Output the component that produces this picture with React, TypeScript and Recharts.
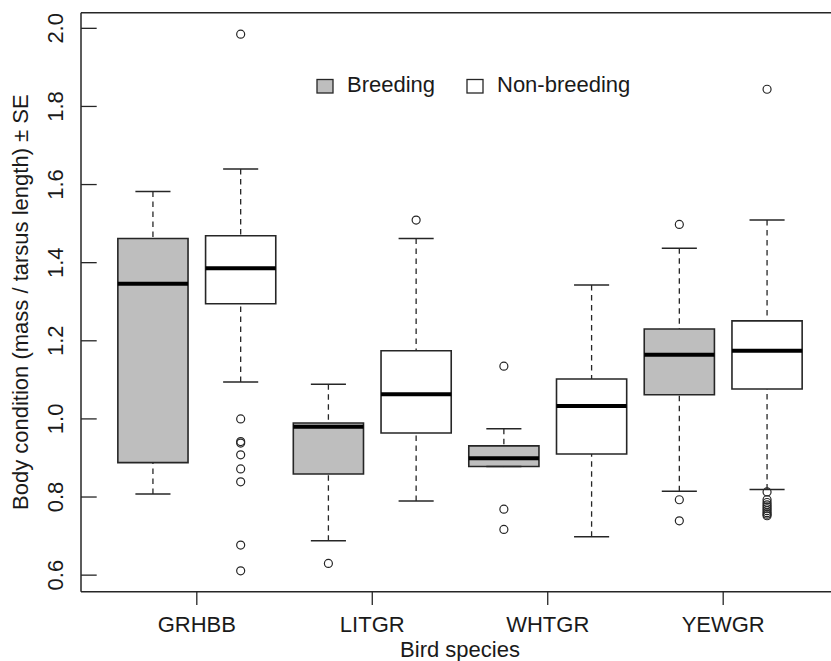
import React from 'react';
import { ComposedChart, XAxis, YAxis, Scatter, ReferenceArea, ReferenceLine } from 'recharts';

// Categories
const species = ['GRHBB', 'LITGR', 'WHTGR', 'YEWGR'];
const groups = ['Breeding', 'Non-breeding'];
const groupFills = ['#BEBEBE', '#FFFFFF'];

// Box statistics: [lower whisker, Q1, median, Q3, upper whisker]
const breedingStats = [
  [0.808, 0.888, 1.346, 1.462, 1.582],
  [0.688, 0.859, 0.98, 0.9895, 1.0886],
  [0.878, 0.878, 0.899, 0.931, 0.975],
  [0.815, 1.062, 1.164, 1.23, 1.437],
];
const nonBreedingStats = [
  [1.0945, 1.295, 1.386, 1.469, 1.64],
  [0.79, 0.964, 1.063, 1.1746, 1.462],
  [0.698, 0.91, 1.033, 1.102, 1.343],
  [0.819, 1.0765, 1.1746, 1.251, 1.509],
];

// Outliers
const breedingOutliers = [
  [],
  [0.63],
  [1.135, 0.769, 0.717],
  [1.498, 0.793, 0.739],
];
const nonBreedingOutliers = [
  [1.985, 1.0, 0.942, 0.938, 0.908, 0.872, 0.839, 0.677, 0.611],
  [1.509],
  [],
  [1.844, 0.813, 0.793, 0.786, 0.78, 0.775, 0.77, 0.765, 0.76, 0.756, 0.752],
];

const yTicks = [0.6, 0.8, 1.0, 1.2, 1.4, 1.6, 1.8, 2.0];
const xDomain: [number, number] = [0.18, 8.82];
const yDomain: [number, number] = [0.5576, 2.04];

const FONT = '"Liberation Sans", Arial, sans-serif';
const INK = '#1a1a1a';
const LINE = '#262626';

const statsByGroup = [breedingStats, nonBreedingStats];
const outliersByGroup = [breedingOutliers, nonBreedingOutliers];

const boxes = species.flatMap((sp, i) =>
  groups.map((g, gi) => ({
    key: `${sp}-${g}`,
    pos: 2 * i + gi + 1,
    stats: statsByGroup[gi][i],
    fill: groupFills[gi],
  }))
);

const outlierData = groups.map((g, gi) =>
  species.flatMap((sp, i) =>
    outliersByGroup[gi][i].map((v) => ({ x: 2 * i + gi + 1, y: v }))
  )
);

const xTicks = species.map((_, i) => 2 * i + 1.5);

const YTick = (props: any) => {
  const { x, y, payload } = props;
  const tx = x - 17.7;
  return (
    <g>
      <line x1={x} x2={x + 15.7} y1={y} y2={y} stroke={LINE} strokeWidth={1.3} />
      <text
        x={tx}
        y={y}
        transform={`rotate(-90 ${tx} ${y})`}
        textAnchor="middle"
        fontFamily={FONT}
        fontSize={22}
        fill={INK}
      >
        {Number(payload.value).toFixed(1)}
      </text>
    </g>
  );
};

const XTick = (props: any) => {
  const { x, y, payload } = props;
  const idx = xTicks.indexOf(payload.value);
  return (
    <text x={x} y={y + 26.7} textAnchor="middle" fontFamily={FONT} fontSize={22} fill={INK}>
      {species[idx]}
    </text>
  );
};

const YTitle = (props: any) => {
  const vb = props.viewBox || { x: 0, y: 12.7, width: 81, height: 579 };
  const tx = vb.x + 28.3;
  const ty = vb.y + vb.height / 2;
  return (
    <text
      x={tx}
      y={ty}
      transform={`rotate(-90 ${tx} ${ty})`}
      textAnchor="middle"
      fontFamily={FONT}
      fontSize={22}
      fill={INK}
    >
      Body condition (mass / tarsus length) ± SE
    </text>
  );
};

const XTitle = (props: any) => {
  const vb = props.viewBox || { x: 81, y: 591.7, width: 758, height: 69.3 };
  return (
    <text
      x={vb.x + vb.width / 2}
      y={vb.y + 65.5}
      textAnchor="middle"
      fontFamily={FONT}
      fontSize={22}
      fill={INK}
    >
      Bird species
    </text>
  );
};

const OutlierShape = (props: any) => {
  const { cx, cy } = props;
  return <circle cx={cx} cy={cy} r={4} fill="none" stroke={LINE} strokeWidth={1.2} />;
};

const Legend = () => {
  const itemX = [317, 467];
  return (
    <svg
      width={831}
      height={661}
      style={{ position: 'absolute', left: 0, top: 0, pointerEvents: 'none' }}
    >
      {groups.map((g, gi) => (
        <g key={g}>
          <rect
            x={itemX[gi]}
            y={79.5}
            width={16}
            height={13.5}
            fill={groupFills[gi]}
            stroke={LINE}
            strokeWidth={1.3}
          />
          <text x={itemX[gi] + 30} y={92.3} fontFamily={FONT} fontSize={22} fill={INK}>
            {g}
          </text>
        </g>
      ))}
    </svg>
  );
};

export default function App() {
  return (
    <div
      style={{
        position: 'absolute',
        left: 0,
        top: 0,
        width: 831,
        height: 661,
        overflow: 'hidden',
        background: '#fff',
      }}
    >
      <ComposedChart
        width={860}
        height={661}
        margin={{ top: 12.7, right: 21, bottom: 0, left: 0 }}
      >
        <XAxis
          type="number"
          dataKey="x"
          domain={xDomain}
          allowDataOverflow
          ticks={xTicks}
          interval={0}
          tick={<XTick />}
          tickSize={13.3}
          tickMargin={0}
          tickLine={{ stroke: LINE, strokeWidth: 1.3 }}
          axisLine={{ stroke: LINE, strokeWidth: 1.5 }}
          height={69.3}
          label={{ content: <XTitle /> } as any}
        />
        <YAxis
          type="number"
          dataKey="y"
          domain={yDomain}
          allowDataOverflow
          ticks={yTicks}
          interval={0}
          tick={<YTick />}
          tickSize={0}
          tickMargin={0}
          tickLine={false}
          axisLine={{ stroke: LINE, strokeWidth: 1.5 }}
          width={81}
          label={{ content: <YTitle /> } as any}
        />
        <ReferenceLine
          segment={[
            { x: xDomain[0], y: yDomain[1] },
            { x: xDomain[1], y: yDomain[1] },
          ]}
          stroke={LINE}
          strokeWidth={1.5}
          ifOverflow="visible"
        />
        {boxes.map((b) => (
          <ReferenceLine
            key={`${b.key}-uw`}
            segment={[
              { x: b.pos, y: b.stats[4] },
              { x: b.pos, y: b.stats[3] },
            ]}
            stroke={LINE}
            strokeWidth={1.3}
            strokeDasharray="5.5 4.5"
            ifOverflow="visible"
          />
        ))}
        {boxes.map((b) => (
          <ReferenceLine
            key={`${b.key}-lw`}
            segment={[
              { x: b.pos, y: b.stats[0] },
              { x: b.pos, y: b.stats[1] },
            ]}
            stroke={LINE}
            strokeWidth={1.3}
            strokeDasharray="5.5 4.5"
            ifOverflow="visible"
          />
        ))}
        {boxes.map((b) => (
          <ReferenceLine
            key={`${b.key}-uc`}
            segment={[
              { x: b.pos - 0.2, y: b.stats[4] },
              { x: b.pos + 0.2, y: b.stats[4] },
            ]}
            stroke={LINE}
            strokeWidth={1.5}
            ifOverflow="visible"
          />
        ))}
        {boxes.map((b) => (
          <ReferenceLine
            key={`${b.key}-lc`}
            segment={[
              { x: b.pos - 0.2, y: b.stats[0] },
              { x: b.pos + 0.2, y: b.stats[0] },
            ]}
            stroke={LINE}
            strokeWidth={1.5}
            ifOverflow="visible"
          />
        ))}
        {boxes.map((b) => (
          <ReferenceArea
            key={`${b.key}-box`}
            x1={b.pos - 0.4}
            x2={b.pos + 0.4}
            y1={b.stats[1]}
            y2={b.stats[3]}
            fill={b.fill}
            fillOpacity={1}
            stroke={LINE}
            strokeWidth={1.6}
            ifOverflow="visible"
          />
        ))}
        {boxes.map((b) => (
          <ReferenceLine
            key={`${b.key}-med`}
            segment={[
              { x: b.pos - 0.4, y: b.stats[2] },
              { x: b.pos + 0.4, y: b.stats[2] },
            ]}
            stroke="#000"
            strokeWidth={4}
            ifOverflow="visible"
          />
        ))}
        {groups.map((g, gi) => (
          <Scatter
            key={`out-${g}`}
            name={g}
            data={outlierData[gi]}
            dataKey="y"
            shape={<OutlierShape />}
            isAnimationActive={false}
          />
        ))}
      </ComposedChart>
      <Legend />
    </div>
  );
}
